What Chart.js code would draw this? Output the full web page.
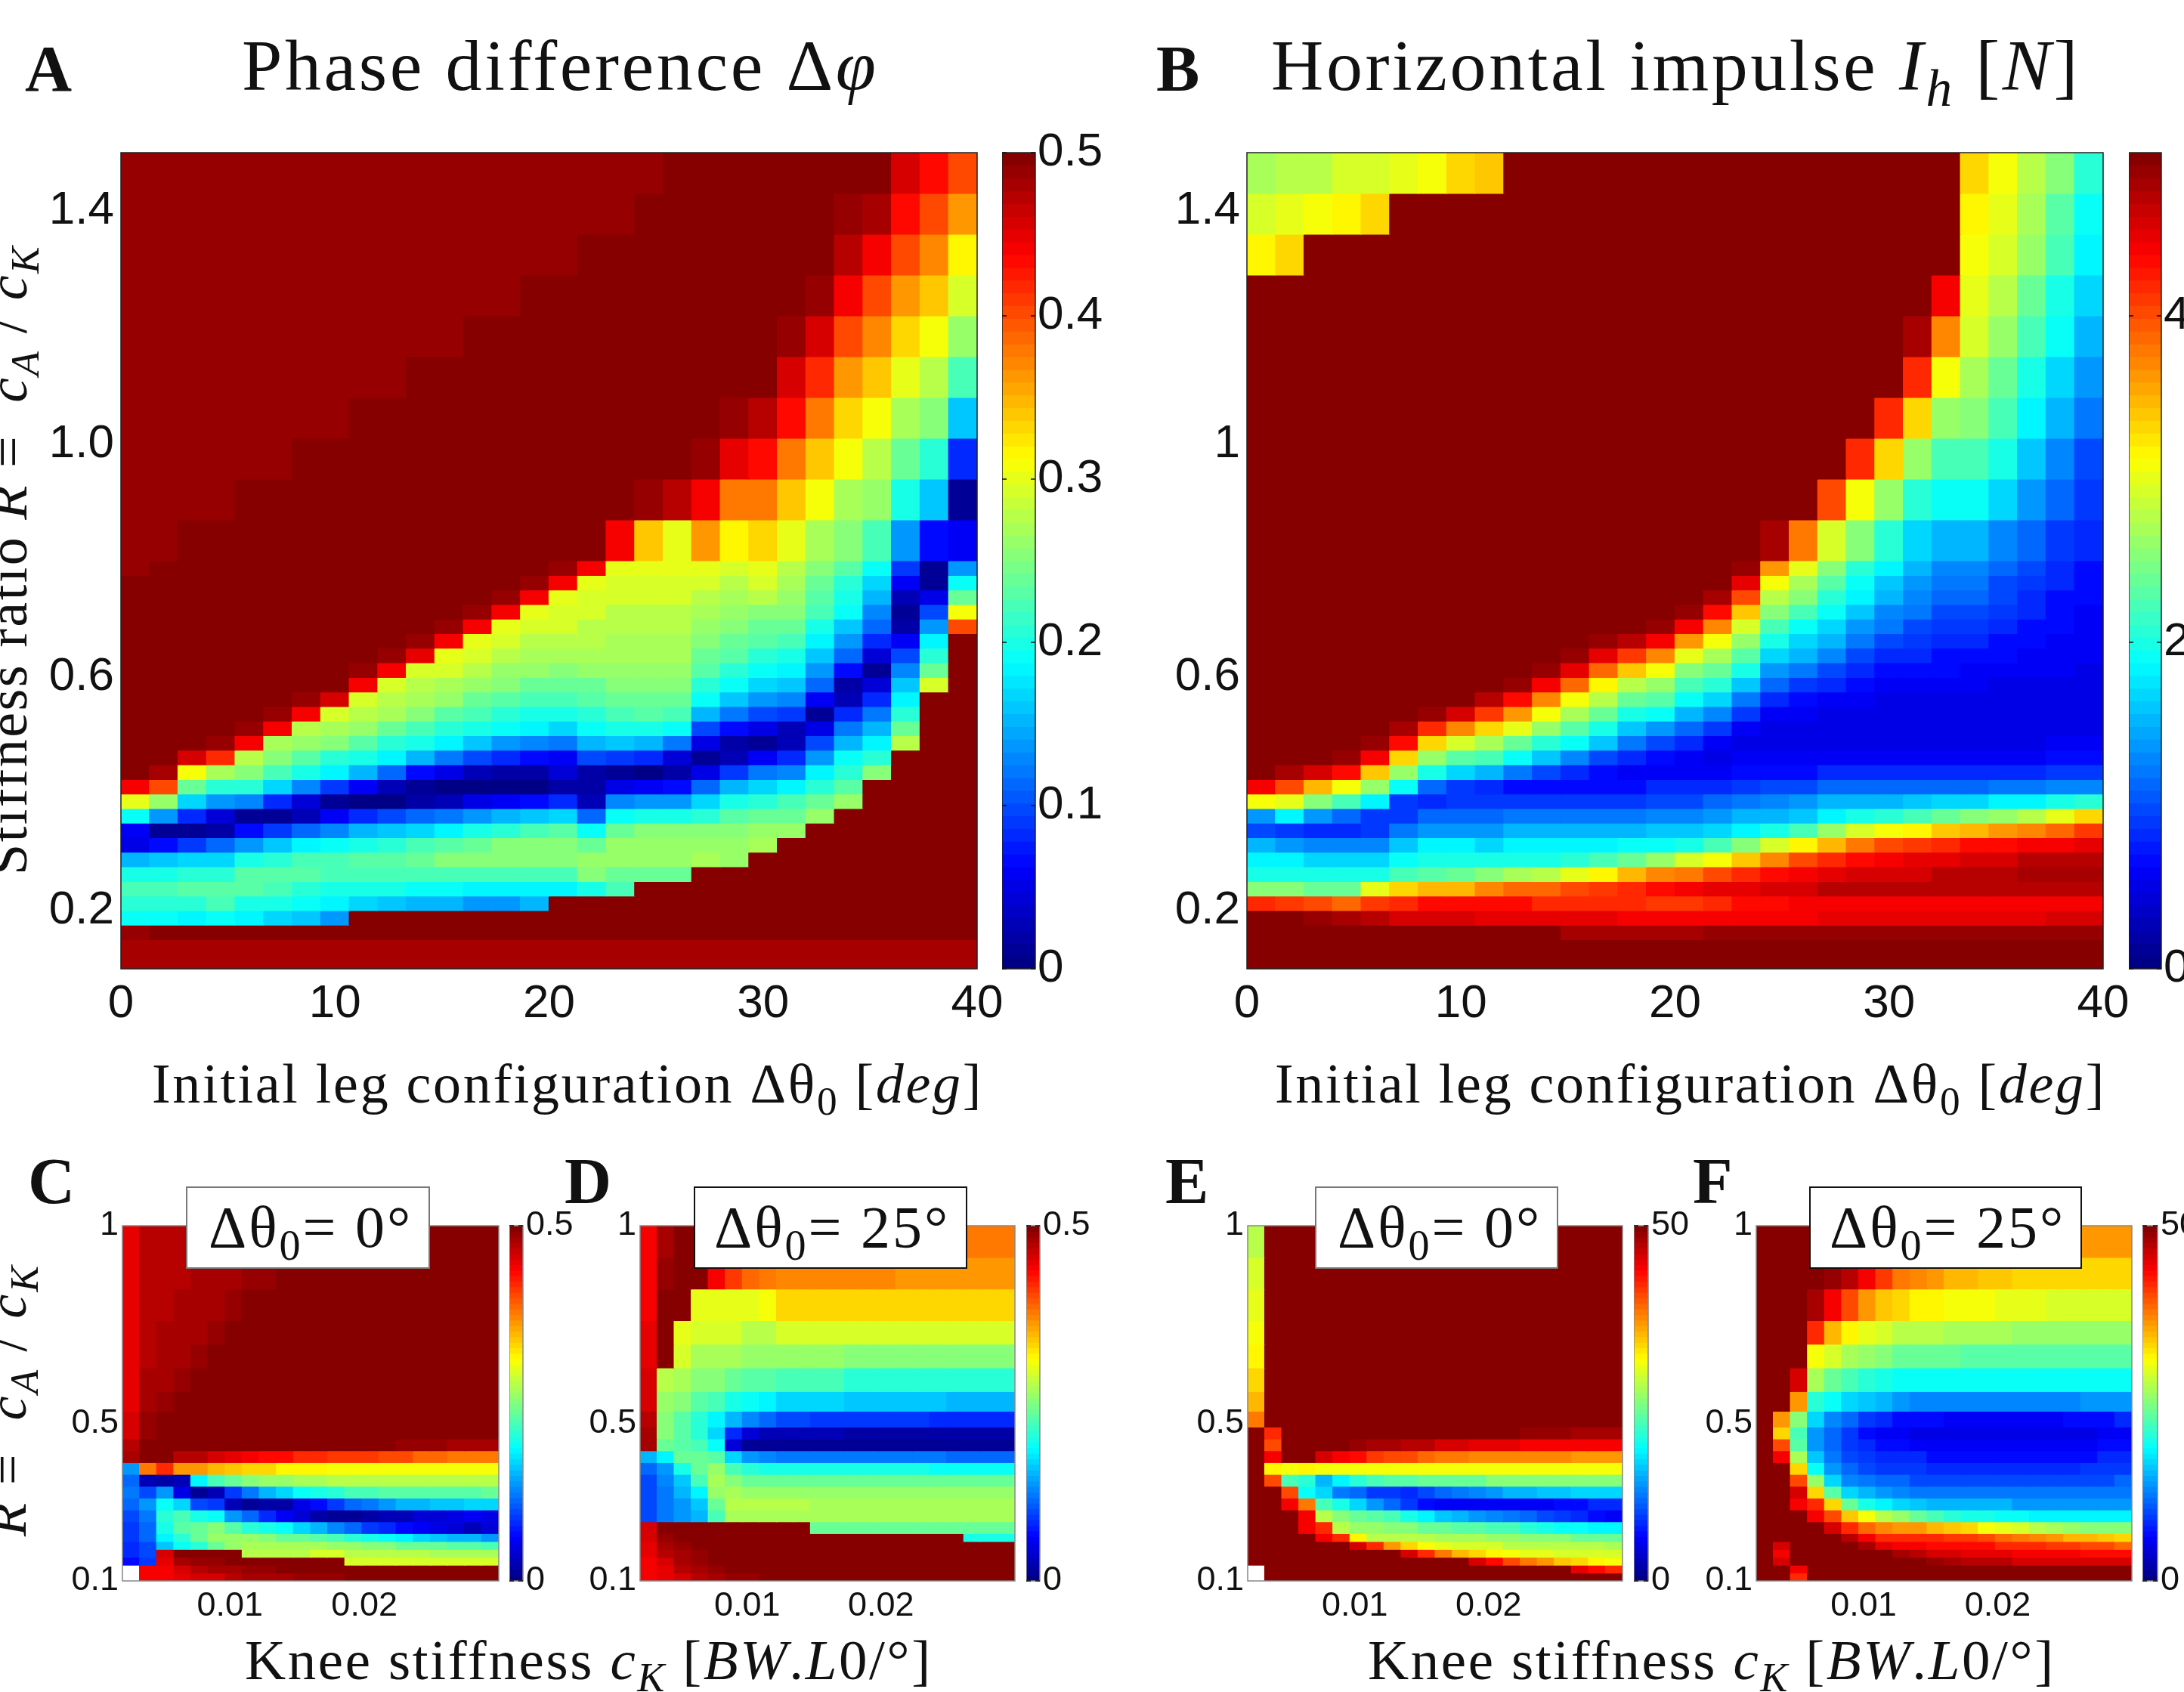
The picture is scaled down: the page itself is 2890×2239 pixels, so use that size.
<!DOCTYPE html>
<html>
<head>
<meta charset="utf-8">
<script src="https://cdn.jsdelivr.net/npm/chart.js@4"></script>
<style>
html, body { margin: 0; padding: 0; background: #fff; width: 2890px; height: 2239px; overflow: hidden; }
canvas { position: absolute; }
.t { position: absolute; font-family: "Liberation Serif", serif; color: #111; white-space: nowrap; line-height: 1; }
.t i { font-style: italic; }
.t sub { font-size: 0.72em; line-height: 0; vertical-align: -0.3em; }
.box { position: absolute; background: #fff; border: 2px solid #333; box-sizing: border-box; }
</style>
</head>
<body>
<script>
// rows run top to bottom, every inner list is one column, left to right
const bigRows = [1.5,1.43,1.36,1.29,1.22,1.15,1.08,1.01,.94,.87,.8,.775,.75,.725,.7,.675,.65,.625,.6,.575,.55,.525,.5,.475,.45,.425,.4,.375,.35,.325,.3,.275,.25,.225,.2,.175,.15,.1];
const smallRows = [1,.92,.84,.76,.7,.64,.58,.53,.49,.46,.43,.4,.37,.34,.31,.28,.25,.22,.2,.18,.16,.14,.12,.1];

// panel A, phase difference x 100
const phaseMain = [
[49,49,49,49,49,49,49,49,49,49,49,50,50,50,50,50,50,50,50,50,50,50,50,50,50,44,30,19,6,5,15,20,22,21,19,49,48],
[49,49,49,49,49,49,49,49,49,49,50,50,50,50,50,50,50,50,50,50,50,50,50,50,48,40,26,14,1,7,16,20,22,21,19,50,48],
[49,49,49,49,49,49,49,49,49,50,50,50,50,50,50,50,50,50,50,50,50,50,50,46,31,24,17,8,1,9,17,21,23,21,18,50,48],
[49,49,49,49,49,49,49,49,49,50,50,50,50,50,50,50,50,50,50,50,50,50,49,42,27,21,14,4,2,11,17,21,23,22,19,50,48],
[49,49,49,49,49,49,49,49,50,50,50,50,50,50,50,50,50,50,50,50,50,49,44,28,25,21,13,1,7,14,20,23,23,20,18,50,48],
[49,49,49,49,49,49,49,49,50,50,50,50,50,50,50,50,50,50,50,50,49,44,27,25,22,17,8,1,9,16,21,23,22,20,17,50,48],
[49,49,49,49,49,49,49,50,50,50,50,50,50,50,50,50,50,50,50,49,44,28,26,23,20,13,4,3,11,18,22,23,21,19,16,50,48],
[49,49,49,49,49,49,49,50,50,50,50,50,50,50,50,50,50,50,50,46,29,27,25,21,18,9,1,6,13,19,22,22,20,18,14,50,48],
[49,49,49,49,49,49,50,50,50,50,50,50,50,50,50,50,50,49,44,29,28,26,23,20,15,6,0,8,15,20,23,22,20,17,50,50,48],
[49,49,49,49,49,49,50,50,50,50,50,50,50,50,50,50,49,44,29,28,27,24,21,18,11,3,0,10,16,21,23,22,20,16,50,50,48],
[49,49,49,49,49,50,50,50,50,50,50,50,50,50,50,49,45,29,28,27,25,22,20,15,7,1,2,11,17,22,24,22,19,15,50,50,48],
[49,49,49,49,49,50,50,50,50,50,50,50,50,50,49,44,30,29,27,26,23,21,18,12,5,0,3,12,18,23,25,22,19,15,50,50,48],
[49,49,49,49,50,50,50,50,50,50,50,50,50,49,44,30,29,28,26,24,22,20,16,10,3,0,5,14,20,24,25,22,18,14,50,50,48],
[49,49,49,49,50,50,50,50,50,50,50,50,49,44,30,29,28,26,25,23,21,19,14,8,2,0,6,15,21,25,25,22,18,14,50,50,48],
[49,49,49,50,50,50,50,50,50,50,50,49,44,30,29,28,27,26,24,22,20,18,13,7,2,0,7,16,22,25,25,22,18,15,50,50,48],
[49,49,49,50,50,50,50,50,50,50,49,44,30,29,29,28,27,25,24,22,20,17,12,6,4,2,8,17,23,25,25,22,18,50,50,50,48],
[49,49,50,50,50,50,50,50,50,50,44,30,29,29,28,28,27,26,24,23,21,19,15,10,2,2,3,11,19,24,26,25,20,50,50,50,48],
[49,49,50,50,50,50,50,50,50,44,30,29,29,28,28,27,27,26,25,24,22,20,16,9,1,5,13,19,24,26,26,24,22,50,50,50,48],
[49,50,50,50,50,50,50,50,49,34,30,29,29,28,28,27,27,26,25,24,23,20,15,8,0,6,14,20,25,26,26,24,50,50,50,50,48],
[50,50,50,50,50,50,50,50,47,30,30,29,29,28,28,27,27,26,25,24,22,19,12,4,2,7,14,20,25,26,26,24,50,50,50,50,48],
[50,50,50,50,50,50,50,49,44,36,30,29,28,27,26,25,24,23,21,19,15,10,5,1,5,11,17,21,25,26,27,50,50,50,50,50,48],
[50,50,50,50,50,50,49,45,38,32,29,28,27,26,25,24,23,21,19,16,12,7,2,3,9,15,20,23,25,26,26,50,50,50,50,50,48],
[50,50,50,50,50,50,47,43,38,33,30,29,28,25,24,23,21,19,17,14,10,5,1,6,12,17,21,24,26,27,50,50,50,50,50,50,48],
[50,50,50,50,49,46,43,38,34,30,28,27,26,25,24,22,20,18,16,13,9,3,3,8,13,18,22,24,26,50,50,50,50,50,50,50,48],
[50,50,50,49,46,42,38,34,31,27,25,24,23,22,20,18,16,14,11,6,1,5,10,14,18,21,24,26,50,50,50,50,50,50,50,50,48],
[50,49,47,44,40,36,33,31,27,25,23,21,20,19,16,14,11,7,2,3,8,12,15,19,21,23,26,50,50,50,50,50,50,50,50,50,48],
[50,48,44,40,37,34,31,28,26,22,19,17,15,13,11,8,4,1,4,8,12,15,18,21,25,50,50,50,50,50,50,50,50,50,50,50,48],
[46,43,40,36,33,30,27,24,20,14,9,6,3,1,2,6,10,13,16,18,21,24,28,50,50,50,50,50,50,50,50,50,50,50,50,50,48],
[43,40,37,34,31,28,25,21,16,7,1,1,5,10,14,18,21,24,29,50,50,50,50,50,50,50,50,50,50,50,50,50,50,50,50,50,48],
[40,36,32,29,26,22,16,8,1,6,14,19,24,31,40,50,50,50,50,50,50,50,50,50,50,50,50,50,50,50,50,50,50,50,50,50,48]
];

// panel B, horizontal impulse
const impulseMain = [
[27,29,32,50,50,50,50,50,50,50,50,50,50,50,50,50,50,50,50,50,50,50,50,50,50,44,31,14,10,15,18,20,25,42,50,50,50],
[28,30,33,50,50,50,50,50,50,50,50,50,50,50,50,50,50,50,50,50,50,50,50,50,48,40,30,18,9,14,18,20,25,41,50,50,50],
[28,31,50,50,50,50,50,50,50,50,50,50,50,50,50,50,50,50,50,50,50,50,50,50,46,35,25,14,8,13,17,20,24,40,49,50,50],
[29,32,50,50,50,50,50,50,50,50,50,50,50,50,50,50,50,50,50,50,50,50,50,49,43,31,22,11,8,13,17,20,24,39,48,50,50],
[29,33,50,50,50,50,50,50,50,50,50,50,50,50,50,50,50,50,50,50,50,50,49,44,34,26,18,9,9,13,17,20,30,41,47,50,50],
[30,50,50,50,50,50,50,50,50,50,50,50,50,50,50,50,50,50,50,50,50,48,43,33,26,19,9,9,12,16,19,22,33,42,46,50,50],
[31,50,50,50,50,50,50,50,50,50,50,50,50,50,50,50,50,50,50,50,49,42,33,26,20,11,8,11,14,18,20,23,35,43,46,50,50],
[33,50,50,50,50,50,50,50,50,50,50,50,50,50,50,50,50,50,50,50,46,37,29,23,17,9,9,11,14,18,20,24,35,43,46,50,50],
[34,50,50,50,50,50,50,50,50,50,50,50,50,50,50,50,50,50,50,47,41,33,27,22,15,8,9,11,14,17,20,25,37,43,45,50,50],
[50,50,50,50,50,50,50,50,50,50,50,50,50,50,50,50,50,50,49,43,36,30,24,19,12,7,9,12,15,18,20,27,39,43,45,50,50],
[50,50,50,50,50,50,50,50,50,50,50,50,50,50,50,50,50,49,44,37,31,26,21,16,10,7,9,12,15,18,20,28,39,42,45,50,50],
[50,50,50,50,50,50,50,50,50,50,50,50,50,50,50,50,49,45,39,31,27,23,19,13,8,7,9,12,15,18,21,30,40,42,45,48,50],
[50,50,50,50,50,50,50,50,50,50,50,50,50,50,50,49,45,39,32,28,24,20,16,10,7,7,9,12,15,18,22,32,41,42,45,48,50],
[50,50,50,50,50,50,50,50,50,50,50,50,50,50,50,47,41,34,28,24,20,16,12,8,6,7,9,12,15,19,24,35,42,42,44,48,50],
[50,50,50,50,50,50,50,50,50,50,50,50,50,50,49,44,37,31,26,23,19,14,10,7,6,8,10,13,16,19,26,37,43,41,44,48,50],
[50,50,50,50,50,50,50,50,50,50,50,50,50,49,44,36,30,25,22,19,15,11,8,6,6,8,10,13,16,20,29,38,44,41,44,48,50],
[50,50,50,50,50,50,50,50,50,50,50,50,48,43,37,31,27,24,21,17,13,9,6,5,6,8,11,14,17,22,31,40,45,42,44,49,50],
[50,50,50,50,50,50,50,50,50,50,49,45,40,34,29,26,23,20,16,12,9,6,5,6,7,9,12,15,18,25,34,42,45,43,44,49,50],
[50,50,50,50,50,50,50,50,50,48,36,31,28,25,22,20,17,14,11,8,6,5,5,6,7,10,13,15,20,29,37,43,46,43,44,49,50],
[50,50,50,50,50,50,50,50,50,38,30,27,25,22,19,17,15,12,9,7,6,5,5,6,7,10,14,16,22,32,40,44,46,44,44,49,50],
[50,50,50,50,50,50,50,50,40,29,25,23,21,19,17,15,13,10,8,6,5,5,5,6,8,11,15,18,26,35,42,45,47,44,45,49,50],
[50,50,50,50,50,50,50,42,31,25,21,19,18,16,14,12,10,8,7,6,5,5,5,6,8,11,15,20,29,38,43,46,47,44,45,49,50],
[50,50,50,50,50,50,42,33,26,21,18,16,15,13,12,10,8,7,6,5,5,5,5,6,8,11,15,21,31,40,44,46,47,44,45,49,50],
[50,50,50,50,48,42,33,26,21,17,15,14,13,12,10,9,8,7,6,5,5,5,5,6,8,11,16,22,32,41,45,46,47,44,45,49,50],
[50,50,50,44,37,31,26,22,19,15,13,12,11,10,9,8,7,7,6,5,5,5,5,6,8,11,17,24,34,42,45,47,47,44,45,49,50],
[33,32,31,30,29,27,25,22,19,15,13,12,11,10,9,8,7,6,6,5,5,5,5,6,8,11,17,25,35,43,46,47,47,44,45,49,50],
[31,30,29,28,26,24,22,20,17,13,11,10,10,9,8,7,7,6,5,5,5,5,5,6,8,12,18,26,36,43,46,47,47,44,45,49,50],
[28,27,26,24,22,20,18,16,14,11,10,9,8,8,7,7,6,6,5,5,5,5,5,6,8,12,18,28,37,44,47,48,47,44,45,49,50],
[25,23,22,20,19,17,15,13,11,9,8,8,7,7,7,6,6,6,5,5,5,5,6,7,9,13,20,30,39,44,47,48,47,44,46,49,50],
[21,19,18,17,15,14,12,10,9,8,7,7,7,6,6,6,6,5,5,5,5,5,6,7,9,13,21,33,41,45,47,48,47,44,46,49,50]
];

// panel C, phase difference at 0 deg
const phaseLow = [
[45,45,45,45,45,45,45,46,46,47,48,14,11,12,11,10,9,9,8,8,7,null,null],
[47,47,47,47,47,48,48,49,49,50,50,38,3,10,14,12,11,11,10,10,9,44,44],
[47,47,47,48,48,48,49,50,50,50,50,42,2,14,19,21,20,18,16,46,45,44,44],
[47,47,48,48,48,49,50,50,50,50,47,36,3,5,17,22,23,21,19,50,48,46,45],
[48,48,48,48,49,50,50,50,50,50,47,36,18,1,10,20,24,24,21,50,49,47,46],
[48,48,48,49,50,50,50,50,50,50,46,35,22,3,9,19,25,26,24,50,49,48,46],
[48,48,49,50,50,50,50,50,50,50,45,34,24,9,3,14,23,26,26,50,50,48,47],
[49,49,50,50,50,50,50,50,50,50,44,33,25,12,1,11,21,26,27,28,50,49,48],
[49,49,50,50,50,50,50,50,50,50,43,33,26,15,2,8,20,25,27,28,50,49,48],
[49,50,50,50,50,50,50,50,50,50,43,32,26,17,2,6,19,24,27,28,50,50,48],
[50,50,50,50,50,50,50,50,50,50,42,32,27,19,5,4,17,24,27,28,50,50,49],
[50,50,50,50,50,50,50,50,50,50,42,32,27,20,7,2,15,23,27,29,50,50,49],
[50,50,50,50,50,50,50,50,50,50,41,31,28,21,9,1,13,22,26,29,50,50,49],
[50,50,50,50,50,50,50,50,50,50,41,31,28,22,11,1,11,21,26,28,29,50,50],
[50,50,50,50,50,50,50,50,50,50,41,31,28,22,12,2,9,20,25,28,29,50,50],
[50,50,50,50,50,50,50,50,50,50,40,31,28,23,14,3,8,19,25,28,29,50,50],
[50,50,50,50,50,50,50,50,50,49,40,31,28,23,15,3,7,18,24,28,29,50,50],
[50,50,50,50,50,50,50,50,50,49,39,31,28,23,15,4,6,17,24,28,29,50,50],
[50,50,50,50,50,50,50,50,50,49,39,31,28,23,16,4,5,16,24,27,29,50,50],
[50,50,50,50,50,50,50,50,50,48,38,31,28,23,16,5,4,15,23,27,29,50,50],
[50,50,50,50,50,50,50,50,50,48,38,31,28,23,17,6,3,15,23,27,29,50,50],
[50,50,50,50,50,50,50,50,50,48,38,31,28,24,17,5,4,14,22,27,29,50,50]
];

// panel D, phase difference at 25 deg
const phaseHigh = [
[44,44,44,45,45,46,46,47,48,48,15,11,10,10,10,10,46,46,45,45,44,44,44],
[48,49,50,50,50,28,26,25,25,24,18,14,13,12,12,12,50,49,48,47,46,45,45],
[50,50,50,30,29,27,25,23,23,23,24,20,16,15,14,14,50,50,49,48,48,47,46],
[50,50,30,29,27,25,23,21,21,22,24,24,22,18,16,15,50,50,50,49,49,48,47],
[46,44,30,29,27,25,22,18,17,19,23,26,27,26,24,22,50,50,50,50,50,49,48],
[44,41,30,29,27,24,20,15,8,4,17,22,25,27,28,27,50,50,50,50,50,50,49],
[42,39,30,28,26,23,19,13,4,1,14,21,24,26,28,27,50,50,50,50,50,50,49],
[41,38,31,28,26,23,18,11,3,1,13,20,24,26,28,27,50,50,50,50,50,50,50],
[40,37,33,29,26,22,17,10,3,1,12,20,24,26,28,27,50,50,50,50,50,50,50],
[40,37,33,29,26,22,17,10,3,1,12,20,24,26,28,27,50,50,50,50,50,50,50],
[40,37,33,29,26,22,17,9,3,1,12,20,24,26,27,27,24,50,50,50,50,50,50],
[40,37,33,29,26,22,17,9,3,1,12,20,24,26,27,27,24,50,50,50,50,50,50],
[39,37,33,29,25,21,16,9,2,1,12,20,24,26,27,27,24,50,50,50,50,50,50],
[39,37,33,29,25,21,16,9,2,1,12,20,24,26,27,27,24,50,50,50,50,50,50],
[39,37,33,29,25,21,16,9,2,1,12,20,24,26,27,27,24,50,50,50,50,50,50],
[39,36,33,29,25,21,16,9,2,1,12,20,24,26,27,27,24,50,50,50,50,50,50],
[39,36,33,29,25,21,16,9,2,1,12,20,24,26,27,27,24,50,50,50,50,50,50],
[39,36,33,29,25,21,16,8,2,1,12,19,24,26,27,27,24,50,50,50,50,50,50],
[38,36,33,29,25,21,15,8,2,1,11,19,24,26,27,27,24,50,50,50,50,50,50],
[38,36,33,29,25,21,15,8,2,1,11,19,24,26,27,27,24,20,50,50,50,50,50],
[38,36,33,29,25,21,15,8,2,1,11,19,24,26,27,27,24,20,50,50,50,50,50],
[38,36,33,29,25,21,15,8,2,1,11,19,24,26,27,27,24,20,50,50,50,50,50]
];

// panel E, impulse at 0 deg
const impulseLow = [
[28,29,30,31,32,33,35,38,50,50,50,50,50,50,50,50,50,50,50,50,50,null,null],
[50,50,50,50,50,50,50,50,42,40,44,32,40,50,50,50,50,50,50,50,50,50,50],
[50,50,50,50,50,50,50,50,50,50,50,31,22,40,44,50,50,50,50,50,50,50,50],
[50,50,50,50,50,50,50,50,50,50,50,32,21,19,38,44,44,50,50,50,50,50,50],
[50,50,50,50,50,50,50,50,50,50,46,31,15,17,22,28,42,44,50,50,50,50,50],
[50,50,50,50,50,50,50,50,50,50,44,31,18,12,20,25,28,42,50,50,50,50,50],
[50,50,50,50,50,50,50,50,50,49,43,31,21,11,17,24,26,32,46,50,50,50,50],
[50,50,50,50,50,50,50,50,50,48,41,31,22,9,14,23,26,28,42,50,50,50,50],
[50,50,50,50,50,50,50,50,50,48,40,31,23,9,11,22,25,28,36,50,50,50,50],
[50,50,50,50,50,50,50,50,50,47,40,31,23,8,9,20,25,28,33,46,50,50,50],
[50,50,50,50,50,50,50,50,50,47,39,31,24,10,7,18,24,28,31,42,50,50,50],
[50,50,50,50,50,50,50,50,50,46,38,31,24,11,6,16,24,27,30,38,50,50,50],
[50,50,50,50,50,50,50,50,50,46,38,31,24,12,6,15,23,27,29,35,50,50,50],
[50,50,50,50,50,50,50,50,50,45,37,31,24,13,6,14,23,27,29,33,46,50,50],
[50,50,50,50,50,50,50,50,50,45,37,31,25,14,6,13,22,26,29,32,43,50,50],
[50,50,50,50,50,50,50,50,50,45,37,31,25,15,6,12,22,26,28,31,40,50,50],
[50,50,50,50,50,50,50,50,49,44,37,31,25,15,6,11,21,25,28,30,38,50,50],
[50,50,50,50,50,50,50,50,49,44,37,31,25,16,6,10,20,25,28,30,36,50,50],
[50,50,50,50,50,50,50,50,49,44,37,31,25,16,7,9,19,25,28,29,34,50,50],
[50,50,50,50,50,50,50,50,48,44,36,31,25,17,7,8,19,24,28,29,33,45,50],
[50,50,50,50,50,50,50,50,48,44,36,31,25,17,8,7,18,24,28,29,32,43,50],
[50,50,50,50,50,50,50,50,48,44,36,31,25,17,8,6,18,24,27,29,31,42,50]
];

// panel F, impulse at 25 deg
const impulseHigh = [
[50,50,50,50,50,50,50,50,50,50,50,50,50,50,50,50,50,50,50,50,50,50,50],
[50,50,50,50,50,50,50,36,33,40,44,50,50,50,50,50,50,50,46,44,46,50,50],
[50,50,50,50,50,46,36,25,22,23,27,33,40,46,44,50,50,50,50,50,50,44,42],
[50,50,48,42,31,27,21,17,14,14,16,19,26,33,42,44,50,50,50,50,50,50,50],
[50,49,44,35,29,24,19,13,11,11,12,14,17,23,33,40,46,50,50,50,50,50,50],
[50,47,40,32,27,22,17,11,9,9,10,11,13,17,24,34,42,47,50,50,50,50,50],
[49,44,36,30,26,21,16,9,7,8,9,10,12,15,20,31,39,44,48,50,50,50,50],
[46,41,34,29,25,20,15,8,6,7,8,9,11,14,18,28,37,42,45,50,50,50,50],
[44,38,33,28,24,19,14,7,6,7,8,9,11,13,17,26,36,42,44,48,50,50,50],
[42,37,32,28,24,19,13,7,5,6,8,9,10,12,16,24,36,42,44,47,50,50,50],
[40,36,32,28,24,19,13,7,5,6,7,8,10,12,15,22,35,42,43,46,49,50,50],
[39,35,31,27,24,19,13,6,5,6,7,8,10,12,15,21,34,41,43,46,48,50,50],
[38,35,31,27,23,19,13,6,5,6,7,8,10,12,15,20,33,41,43,45,47,50,50],
[38,34,31,27,23,19,13,6,5,6,7,8,10,12,15,20,31,40,43,45,47,50,50],
[38,34,30,27,23,19,13,6,5,6,7,8,10,12,15,19,30,39,42,45,47,50,50],
[37,33,30,26,23,19,13,6,5,6,7,8,10,12,14,19,29,38,42,44,46,50,50],
[37,33,30,26,23,19,13,6,5,6,7,8,10,12,14,18,28,37,42,44,46,50,50],
[37,33,29,26,23,19,13,6,5,6,7,8,10,12,14,18,27,36,41,44,46,50,50],
[37,33,29,26,23,19,13,7,5,6,7,8,10,12,14,18,26,35,41,44,46,50,50],
[36,33,29,26,23,19,14,7,5,6,7,9,10,12,14,18,25,35,40,43,46,50,50],
[36,33,29,26,23,19,14,7,6,7,8,9,10,12,14,18,25,34,40,43,46,50,50],
[36,33,29,26,23,19,14,8,6,7,8,9,11,12,14,18,25,33,39,43,46,50,50]
];

const bigXTicks = [0,10,20,30,40];
const bigXLabels = ['0','10','20','30','40'];
const bigYTicks = [.2,.6,1,1.4];
const phaseYLabels = ['0.2','0.6','1.0','1.4'];
const impulseYLabels = ['0.2','0.6','1','1.4'];
const smallXTicks = [.01,.02];
const smallXLabels = ['0.01','0.02'];
const smallYTicks = [.1,.5,1];
const smallYLabels = ['0.1','0.5','1'];

const SANS = '"Liberation Sans", Arial, sans-serif';

function jet(v) {
    if (v === null) return 'rgba(0,0,0,0)';
    const t = (Math.min(63, Math.floor(v / 50 * 64)) + 0.5) / 64;
    const c = k => Math.round(255 * Math.max(0, Math.min(1, 1.5 - Math.abs(4 * t - k))));
    return 'rgb(' + c(3) + ',' + c(2) + ',' + c(1) + ')';
}

const framePlugin = {
    id: 'frame',
    afterDraw(chart, args, opts) {
        const a = chart.chartArea, ctx = chart.ctx;
        ctx.save();
        ctx.strokeStyle = opts.color;
        ctx.lineWidth = 1.5;
        ctx.strokeRect(a.left, a.top, a.right - a.left, a.bottom - a.top);
        if (opts.marks) {
            ctx.strokeStyle = '#111';
            chart.scales.y.ticks.forEach(t => {
                const p = chart.scales.y.getPixelForValue(t.value);
                ctx.beginPath();
                ctx.moveTo(a.left, p); ctx.lineTo(a.left + 6, p);
                ctx.moveTo(a.right - 6, p); ctx.lineTo(a.right, p);
                ctx.stroke();
            });
        }
        ctx.restore();
    }
};

function heat(o) {
    const pad = o.pad, w = o.right - o.left, h = o.bottom - o.top;
    const cv = document.createElement('canvas');
    cv.width = w + pad.l + pad.r;
    cv.height = h + pad.t + pad.b;
    cv.style.left = (o.left - pad.l) + 'px';
    cv.style.top = (o.top - pad.t) + 'px';
    document.body.appendChild(cv);

    const nx = o.cols.length;
    const xs = o.cols.map((c, i) => o.xMin + (i + 0.5) * (o.xMax - o.xMin) / nx);
    const datasets = o.rows.slice(0, -1).map((hi, r) => ({
        data: xs.map(x => ({ x: x, y: [o.rows[r + 1], hi] })),
        backgroundColor: o.cols.map(c => jet(c[r] === undefined ? null : c[r])),
        grouped: false,
        barPercentage: 1,
        categoryPercentage: 1,
        barThickness: o.bar ? w : undefined,
        borderWidth: 0,
        inflateAmount: 0.6
    }));

    return new Chart(cv, {
        type: 'bar',
        data: { datasets: datasets },
        plugins: [framePlugin],
        options: {
            responsive: false,
            animation: false,
            events: [],
            layout: {
                autoPadding: false,
                padding: { top: pad.t, left: o.bar ? pad.l : 0, right: o.bar ? 0 : pad.r, bottom: 0 }
            },
            plugins: {
                legend: { display: false },
                tooltip: { enabled: false },
                frame: { color: o.frame, marks: !!o.bar }
            },
            scales: {
                x: {
                    type: 'linear',
                    display: !o.bar,
                    offset: false,
                    min: o.xMin,
                    max: o.xMax,
                    grid: { display: false, drawTicks: false },
                    border: { display: false },
                    afterBuildTicks: s => { if (o.xTicks) s.ticks = o.xTicks.map(v => ({ value: v })); },
                    afterFit: s => { s.height = pad.b; },
                    ticks: {
                        autoSkip: false, maxRotation: 0, minRotation: 0,
                        padding: o.xPad, color: '#111',
                        font: { family: SANS, size: o.font },
                        callback: (v, i) => o.xLabels ? o.xLabels[i] : ''
                    }
                },
                y: {
                    type: 'linear',
                    position: o.bar ? 'right' : 'left',
                    min: o.rows[o.rows.length - 1],
                    max: o.rows[0],
                    grid: { display: false, drawTicks: false },
                    border: { display: false },
                    afterBuildTicks: s => { s.ticks = o.yTicks.map(v => ({ value: v })); },
                    afterFit: s => { s.width = o.bar ? pad.r : pad.l; },
                    ticks: {
                        autoSkip: false,
                        padding: o.yPad, color: '#111',
                        font: { family: SANS, size: o.font },
                        callback: (v, i) => o.yLabels[i]
                    }
                }
            }
        }
    });
}

// colour bar steps, one column of the jet map
const barLevels = [], barEdges = [];
for (let i = 64; i >= 0; i--) barEdges.push(i / 64);
for (let i = 63; i >= 0; i--) barLevels.push((i + 0.5) / 64 * 50);

function colourBar(o) {
    const rows = barEdges.map(e => e * o.max);
    heat({
        left: o.left, right: o.right, top: o.top, bottom: o.bottom, pad: { l: 0, r: o.padR, t: 80, b: 50 },
        cols: [barLevels], rows: rows, xMin: 0, xMax: 1, bar: true,
        yTicks: o.ticks, yLabels: o.labels, font: o.font, yPad: o.yPad, xPad: 0, frame: o.frame
    });
}

const big = { top: 202, bottom: 1282, xMin: 0, xMax: 40, rows: bigRows, xTicks: bigXTicks, xLabels: bigXLabels,
    yTicks: bigYTicks, font: 62, xPad: 10, yPad: 9, frame: '#222', pad: { l: 160, r: 50, t: 80, b: 90 } };
heat({ ...big, left: 160, right: 1293, cols: phaseMain, yLabels: phaseYLabels });
heat({ ...big, left: 1650, right: 2783, cols: impulseMain, yLabels: impulseYLabels });
colourBar({ left: 1326, right: 1370, top: 202, bottom: 1282, max: .5, ticks: [0,.1,.2,.3,.4,.5], labels: ['0','0.1','0.2','0.3','0.4','0.5'], font: 62, yPad: 3, padR: 110, frame: '#222' });
colourBar({ left: 2817, right: 2860, top: 202, bottom: 1282, max: 50, ticks: [0,20,40], labels: ['0','20','40'], font: 62, yPad: 3, padR: 30, frame: '#222' });

const small = { top: 1622, bottom: 2092, xMin: .002, xMax: .03, rows: smallRows, xTicks: smallXTicks, xLabels: smallXLabels,
    yTicks: smallYTicks, yLabels: smallYLabels, font: 45, xPad: 7, yPad: 5, frame: '#888', pad: { l: 80, r: 10, t: 40, b: 70 } };
heat({ ...small, left: 162, right: 660, cols: phaseLow });
heat({ ...small, left: 847, right: 1343, cols: phaseHigh });
heat({ ...small, left: 1651, right: 2147, cols: impulseLow });
heat({ ...small, left: 2324, right: 2821, cols: impulseHigh });
const lowBar = { top: 1622, bottom: 2092, font: 45, yPad: 4, padR: 70, frame: '#888' };
colourBar({ ...lowBar, left: 674, right: 692, max: .5, ticks: [0,.5], labels: ['0','0.5'] });
colourBar({ ...lowBar, left: 1358, right: 1376, max: .5, ticks: [0,.5], labels: ['0','0.5'] });
colourBar({ ...lowBar, left: 2162, right: 2181, max: 50, ticks: [0,50], labels: ['0','50'] });
colourBar({ ...lowBar, left: 2835, right: 2855, max: 50, ticks: [0,50], labels: ['0','50'] });

function text(html, x, baseline, size, extra) {
    const d = document.createElement('div');
    d.className = 't';
    d.innerHTML = html;
    d.style.left = x + 'px';
    d.style.top = (baseline - 0.84 * size) + 'px';
    d.style.fontSize = size + 'px';
    if (extra) Object.assign(d.style, extra);
    document.body.appendChild(d);
    return d;
}
function box(x0, y0, x1, y1, color) {
    const d = document.createElement('div');
    d.className = 'box';
    d.style.cssText = 'left:' + x0 + 'px;top:' + y0 + 'px;width:' + (x1 - x0) + 'px;height:' + (y1 - y0) + 'px;border-color:' + color;
    document.body.appendChild(d);
}
function upright(html, baselineX, startY, size, spacing) {
    const d = text(html, baselineX - 0.84 * size, startY, size, { letterSpacing: spacing + 'px', transformOrigin: '0 0', transform: 'rotate(-90deg)' });
    d.style.top = startY + 'px';
}

text('<b>A</b>', 33, 120, 86);
text('<b>B</b>', 1530, 120, 86);
text('<b>C</b>', 37, 1592, 86);
text('<b>D</b>', 747, 1592, 86);
text('<b>E</b>', 1542, 1592, 86);
text('<b>F</b>', 2240, 1592, 86);

text('Phase difference Δ<i>φ</i>', 320, 120, 96, { letterSpacing: '3.6px' });
text('Horizontal impulse <i>I<sub>h</sub></i> [<i>N</i>]', 1682, 120, 96, { letterSpacing: '3.6px' });
text('Initial leg configuration Δθ<sub>0</sub> [<i>deg</i>]', 201, 1459, 74, { letterSpacing: '2.7px' });
text('Initial leg configuration Δθ<sub>0</sub> [<i>deg</i>]', 1687, 1459, 74, { letterSpacing: '2.7px' });
text('Knee stiffness <i>c<sub>K</sub></i> [<i>BW</i>.<i>L</i>0/°]', 324, 2222, 75, { letterSpacing: '2.6px' });
text('Knee stiffness <i>c<sub>K</sub></i> [<i>BW</i>.<i>L</i>0/°]', 1810, 2222, 75, { letterSpacing: '2.6px' });

upright('Stiffness ratio <i>R</i> = &nbsp;<i>c<sub>A</sub></i> / <i>c<sub>K</sub></i>', 35, 1158, 74, 2.5);
upright('<i>R</i> = &nbsp;<i>c<sub>A</sub></i> / <i>c<sub>K</sub></i>', 34, 2033, 72, 3);

box(246, 1570, 569, 1679, '#777');
box(918, 1570, 1280, 1679, '#111');
box(1740, 1570, 2062, 1679, '#777');
box(2394, 1570, 2755, 1679, '#111');
const boxSpacing = { letterSpacing: '3px' };
text('Δθ<sub>0</sub>= 0°', 276, 1651, 78, boxSpacing);
text('Δθ<sub>0</sub>= 25°', 945, 1651, 78, boxSpacing);
text('Δθ<sub>0</sub>= 0°', 1770, 1651, 78, boxSpacing);
text('Δθ<sub>0</sub>= 25°', 2421, 1651, 78, boxSpacing);
</script>
</body>
</html>
